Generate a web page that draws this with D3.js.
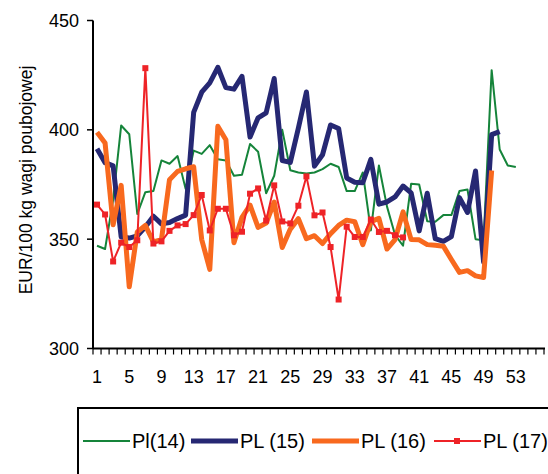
<!DOCTYPE html>
<html lang="pl">
<head>
<meta charset="utf-8">
<title>EUR/100 kg wagi poubojowej</title>
<script src="https://d3js.org/d3.v7.min.js"></script>
<style>
  body { margin: 0; background: #fff; }
  svg { display: block; font-family: "Liberation Sans", Arial, sans-serif; }
</style>
</head>
<body>
<svg width="548" height="474"></svg>
<script>
// weeks on the category axis (1..56), labels every 4th week
const weeks = d3.range(1, 57);
const weekLabels = [1, 5, 9, 13, 17, 21, 25, 29, 33, 37, 41, 45, 49, 53];
const yTicks = [300, 350, 400, 450];

// prices per week, EUR/100 kg
const pl14 = [347, 345.5, 368, 402, 398, 361.5, 371.5, 372, 386, 384.5, 388, 373, 390.5, 389, 393, 386.5,
  386, 379, 379.5, 393.5, 390, 371, 379, 400, 381.5, 380.5, 380, 380.5, 382, 384.5, 383, 372, 372, 380.5,
  354, 383.7, 365, 352, 347, 375.3, 375, 358.2, 358, 361, 361, 372, 372.7, 350, 349.5, 427.3, 391, 383.7, 383];
const pl15 = [391.3, 385, 383.5, 351, 350.5, 351.5, 355.6, 360.5, 357, 357.6, 359.4, 361, 408, 417.2, 421.5,
  428.6, 419.3, 418.6, 424.5, 396.7, 405.5, 407.8, 423.5, 386, 385.1, 400.8, 417.3, 383.4, 388.6, 402.2, 400.6,
  378, 376, 375.8, 386.5, 366, 367, 369.3, 374.3, 371.2, 353.8, 371, 350.2, 349, 351.2, 369, 362.2, 381.2,
  339.5, 397.8, 399.2];
const pl16 = [398.9, 394, 356.6, 374.6, 328.2, 353.3, 356.3, 348.7, 349.8, 377.2, 381, 382.2, 383.1, 349.8,
  336.2, 401.6, 395.5, 348.4, 360, 365.6, 355.4, 357.4, 367, 346.2, 354.6, 359.4, 350.2, 351.6, 348, 352.5,
  356.3, 358.7, 358, 347.5, 358, 359.5, 345.5, 349.8, 362.5, 349.8, 349.7, 347.5, 347.2, 346.8, 340.7, 334.8,
  335.6, 333.2, 332.5, 381.4];
const pl17 = [365.8, 361.3, 339.8, 348.4, 346.4, 349.5, 428.2, 348, 349, 353.8, 356.3, 356.9, 361, 370.2, 354,
  363.9, 363.9, 351.8, 353.4, 370.8, 373.2, 358.5, 374.6, 358.1, 357.2, 365.3, 378.7, 360.9, 362.2, 346.4,
  322.4, 355.7, 351, 351, 359, 353.3, 353.8, 351.8, 350.8];

const seriesNames = ['Pl(14)', 'PL (15)', 'PL (16)', 'PL (17)'];
const seriesData = [pl14, pl15, pl16, pl17];
const colors = ['#15843a', '#262873', '#f8691e', '#ee2327'];
const widths = [2, 5, 5, 2];

const svg = d3.select('svg');

const x = d3.scaleBand().domain(weeks).range([93, 544]);
const y = d3.scaleLinear().domain([300, 450]).range([348.5, 20.5]);
const cx = w => x(w) + x.bandwidth() / 2;

// y axis
svg.append('line')
  .attr('x1', 93).attr('x2', 93)
  .attr('y1', y(450)).attr('y2', y(300))
  .attr('stroke', '#000').attr('stroke-width', 2);

svg.selectAll('.ytick')
  .data(yTicks)
  .enter()
  .append('line')
  .attr('x1', 87).attr('x2', 93)
  .attr('y1', d => y(d)).attr('y2', d => y(d))
  .attr('stroke', '#000').attr('stroke-width', 1.5);

svg.selectAll('.ylab')
  .data(yTicks)
  .enter()
  .append('text')
  .attr('x', 79)
  .attr('y', d => y(d))
  .attr('dy', '0.36em')
  .attr('text-anchor', 'end')
  .style('font-size', '18px')
  .text(d => d);

svg.append('text')
  .attr('transform', 'translate(32,180) rotate(-90)')
  .attr('text-anchor', 'middle')
  .style('font-size', '17.5px')
  .text('EUR/100 kg wagi poubojowej');

// x axis
svg.append('line')
  .attr('x1', 93).attr('x2', 545)
  .attr('y1', y(300)).attr('y2', y(300))
  .attr('stroke', '#000').attr('stroke-width', 2);

svg.selectAll('.xtick')
  .data(weeks.concat([57]))
  .enter()
  .append('line')
  .attr('x1', d => d === 57 ? x(56) + x.bandwidth() : x(d))
  .attr('x2', d => d === 57 ? x(56) + x.bandwidth() : x(d))
  .attr('y1', y(300)).attr('y2', y(300) + 6)
  .attr('stroke', '#000').attr('stroke-width', 1.2);

svg.selectAll('.xlab')
  .data(weekLabels)
  .enter()
  .append('text')
  .attr('x', d => cx(d))
  .attr('y', 383)
  .attr('text-anchor', 'middle')
  .style('font-size', '18px')
  .text(d => d);

// series lines
const line = d3.line()
  .x((d, i) => cx(weeks[i]))
  .y(d => y(d));

seriesData.forEach(function (data, s) {
  svg.append('path')
    .datum(data)
    .attr('d', line)
    .attr('fill', 'none')
    .attr('stroke', colors[s])
    .attr('stroke-width', widths[s])
    .attr('stroke-linejoin', 'round');
});

svg.selectAll('.mark')
  .data(pl17)
  .enter()
  .append('rect')
  .attr('x', (d, i) => cx(weeks[i]) - 3)
  .attr('y', d => y(d) - 3)
  .attr('width', 6).attr('height', 6)
  .attr('fill', colors[3]);

// legend
svg.append('rect')
  .attr('x', 78).attr('y', 408)
  .attr('width', 500).attr('height', 100)
  .attr('fill', 'none')
  .attr('stroke', '#000').attr('stroke-width', 2);

const legendX = [83, 191, 312, 434];
const legendY = 441;
seriesNames.forEach(function (name, s) {
  svg.append('line')
    .attr('x1', legendX[s]).attr('x2', legendX[s] + 47)
    .attr('y1', legendY).attr('y2', legendY)
    .attr('stroke', colors[s])
    .attr('stroke-width', widths[s]);
  if (s === 3) {
    svg.append('rect')
      .attr('x', legendX[s] + 20).attr('y', legendY - 3)
      .attr('width', 6).attr('height', 6)
      .attr('fill', colors[s]);
  }
  svg.append('text')
    .attr('x', legendX[s] + 49)
    .attr('y', legendY + 7)
    .style('font-size', '20px')
    .text(name);
});
</script>
</body>
</html>
